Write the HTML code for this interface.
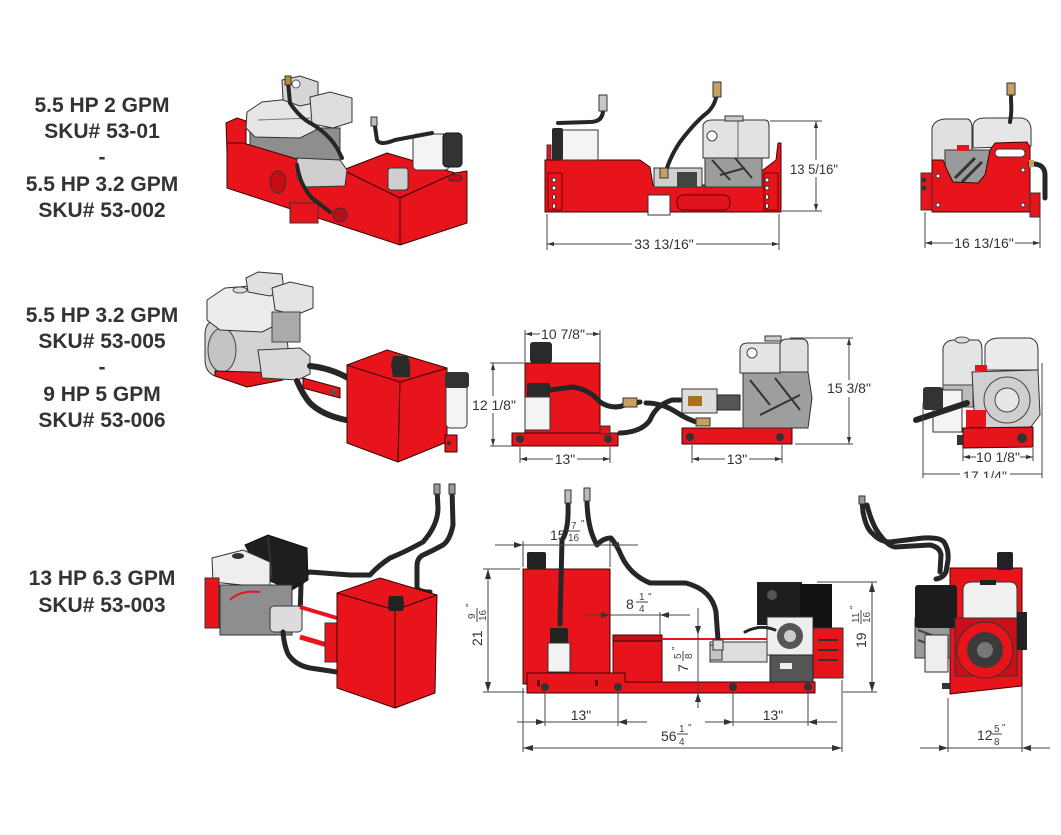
<!DOCTYPE html>
<html><head><meta charset="utf-8">
<style>
html,body{margin:0;padding:0;background:#fff;}
svg{display:block}
.t{font-family:"Liberation Sans",Arial,sans-serif;font-weight:bold;font-size:21px;fill:#333;text-anchor:middle}
.d{font-family:"Liberation Sans",Arial,sans-serif;font-size:14px;fill:#333}
.f{font-family:"Liberation Sans",Arial,sans-serif;font-size:10px;fill:#444}
.r{fill:#e8141c;stroke:#3a0505;stroke-width:1;stroke-linejoin:round}
.h{fill:none;stroke:#262626;stroke-linecap:round;stroke-linejoin:round}
.dl{stroke:#444;stroke-width:1;fill:none}
.ar{fill:#333}
</style></head><body>
<svg width="1061" height="835" viewBox="0 0 1061 835" xmlns="http://www.w3.org/2000/svg">
<defs>
<marker id="m" viewBox="0 0 10 6" refX="10" refY="3" markerWidth="7" markerHeight="4.2" markerUnits="userSpaceOnUse" orient="auto-start-reverse"><path d="M0,0L10,3L0,6z" fill="#333"/></marker>
<marker id="M" viewBox="0 0 10 6" refX="10" refY="3" markerWidth="10" markerHeight="6" markerUnits="userSpaceOnUse" orient="auto-start-reverse"><path d="M0,0L10,3L0,6z" fill="#333"/></marker>
<clipPath id="c2"><rect x="880" y="300" width="181" height="178"/></clipPath>
</defs>

<!-- ===== LABELS ===== -->
<g class="t">
<text x="102" y="112">5.5 HP 2 GPM</text>
<text x="102" y="138">SKU# 53-01</text>
<text x="102" y="164">-</text>
<text x="102" y="191">5.5 HP 3.2 GPM</text>
<text x="102" y="217">SKU# 53-002</text>
<text x="102" y="322">5.5 HP 3.2 GPM</text>
<text x="102" y="348">SKU# 53-005</text>
<text x="102" y="374">-</text>
<text x="102" y="401">9 HP 5 GPM</text>
<text x="102" y="427">SKU# 53-006</text>
<text x="102" y="585">13 HP 6.3 GPM</text>
<text x="102" y="612">SKU# 53-003</text>
</g>

<!-- ===== ROW 1 VIEW A (iso) ===== -->
<g>
<polygon class="r" points="226,123 237,118 246,121 246,150 227,152"/>
<rect x="250" y="128" width="90" height="40" fill="#8e8e8e" stroke="#333"/>
<path d="M247,112 L262,102 L300,98 L316,106 L316,130 L300,138 L255,137 L246,128Z" fill="#e6e6e6" stroke="#333"/>
<path d="M282,80 L300,76 L318,82 L318,102 L300,106 L283,100Z" fill="#d6d6d6" stroke="#333"/>
<path d="M310,97 L330,92 L352,98 L352,122 L333,128 L312,124Z" fill="#dedede" stroke="#333"/>
<circle cx="296" cy="84" r="4" fill="#fff" stroke="#555"/>
<line x1="258" y1="120" x2="312" y2="118" stroke="#777"/>
<polygon class="r" points="227,143 243,143 300,160 343,170 400,198 400,245 227,188"/>
<polygon class="r" points="343,170 387,153 455,173 400,198"/>
<polygon class="r" points="400,198 455,173 467,171 467,223 400,245"/>
<rect x="448" y="175" width="14" height="6" rx="3" fill="#c00c12" stroke="#333"/>
<ellipse cx="278" cy="182" rx="8" ry="11" fill="#c90c14" stroke="#333"/>
<path d="M297,158 L340,160 L347,170 L345,186 L305,187 L297,178Z" fill="#cfcfcf" stroke="#333"/>
<rect x="413" y="134" width="36" height="36" rx="4" fill="#f4f4f4" stroke="#333"/>
<rect x="443" y="133" width="19" height="34" rx="4" fill="#333" stroke="#111"/>
<rect x="388" y="168" width="20" height="22" rx="3" fill="#cfcfcf" stroke="#333"/>
<rect x="290" y="203" width="28" height="20" fill="#e8141c" stroke="#333"/>
<circle cx="340" cy="215" r="7" fill="#b8101a" stroke="#333"/>
<path class="h" stroke-width="4" d="M288,82 L290,103 Q300,118 312,124 Q330,135 338,150 L342,158"/>
<path class="h" stroke-width="4" d="M374,120 L377,140 Q380,146 395,140 L432,133"/>
<path class="h" stroke-width="4" d="M297,165 Q300,185 312,198 L330,212"/>
<rect x="285" y="76" width="6" height="9" fill="#b98a3a" stroke="#333"/>
<rect x="371" y="117" width="6" height="9" fill="#bbb" stroke="#333"/>
</g>

<!-- ===== ROW 1 VIEW B (side) ===== -->
<g>
<rect x="547" y="145" width="4" height="16" fill="#e8141c" stroke="#333"/>
<polygon class="r" points="545,160 640,160 650,167 653,185 707,185 712,173 763,170 776,160 778,143 781,143 781,212 545,212"/>
<rect x="548" y="173" width="14" height="37" fill="none" stroke="#7a0000"/>
<rect x="764" y="173" width="14" height="37" fill="none" stroke="#7a0000"/>
<g fill="#fff" stroke="#333">
<circle cx="554" cy="180" r="2"/><circle cx="554" cy="188" r="2"/><ellipse cx="554" cy="197" rx="1.5" ry="2.5"/><ellipse cx="554" cy="206" rx="1.5" ry="2.5"/>
<circle cx="767" cy="180" r="2"/><circle cx="767" cy="188" r="2"/><ellipse cx="767" cy="197" rx="1.5" ry="2.5"/><ellipse cx="767" cy="206" rx="1.5" ry="2.5"/>
</g>
<rect x="648" y="195" width="22" height="20" fill="#fff" stroke="#333"/>
<rect x="677" y="195" width="53" height="15" rx="6" fill="#e0141c" stroke="#600"/>
<rect x="562" y="130" width="36" height="30" fill="#f4f4f4" stroke="#333"/>
<rect x="552" y="128" width="11" height="32" rx="2" fill="#2a2a2a"/>
<path class="h" stroke-width="4" d="M558,123 L590,122 Q603,122 603,110 L603,102"/>
<rect x="599" y="95" width="8" height="16" fill="#c8c8c8" stroke="#333"/>
<rect x="654" y="168" width="48" height="19" fill="#d0d0d0" stroke="#333"/>
<rect x="677" y="172" width="20" height="15" fill="#444"/>
<rect x="705" y="153" width="57" height="34" fill="#9c9c9c" stroke="#333"/>
<path d="M712,160 L730,180 M735,158 L752,178 M720,175 L745,168" stroke="#333" stroke-width="2"/>
<path d="M703,125 Q705,120 712,120 L765,120 Q769,120 769,126 L769,158 L703,158Z" fill="#e2e2e2" stroke="#333"/>
<circle cx="712" cy="136" r="5" fill="#fff" stroke="#444"/>
<line x1="738" y1="121" x2="738" y2="158" stroke="#666"/>
<rect x="725" y="116" width="18" height="5" fill="#ccc" stroke="#333"/>
<path class="h" stroke-width="4" d="M665,176 Q668,160 680,142 Q695,122 708,112 Q716,104 717,92"/>
<rect x="713" y="82" width="8" height="15" fill="#c8a060" stroke="#333"/>
<rect x="660" y="168" width="8" height="10" fill="#c8a060" stroke="#333"/>
<g class="dl">
<line x1="547" y1="214" x2="547" y2="250"/>
<line x1="779" y1="214" x2="779" y2="250"/>
<line x1="547" y1="244" x2="779" y2="244" marker-start="url(#m)" marker-end="url(#m)"/>
<line x1="770" y1="121" x2="822" y2="121"/>
<line x1="782" y1="211" x2="822" y2="211"/>
<line x1="816" y1="121" x2="816" y2="211" marker-start="url(#m)" marker-end="url(#m)"/>
</g>
<rect x="632" y="236" width="64" height="16" fill="#fff"/>
<text class="d" x="664" y="249" text-anchor="middle">33 13/16"</text>
<rect x="789" y="160" width="50" height="17" fill="#fff"/>
<text class="d" x="790" y="174" textLength="48" lengthAdjust="spacingAndGlyphs">13 5/16"</text>
</g>

<!-- ===== ROW 1 VIEW C (end) ===== -->
<g>
<path d="M932,128 Q934,120 945,119 L968,119 Q972,121 972,128 L972,165 L932,165Z" fill="#e0e0e0" stroke="#333"/>
<path d="M973,125 Q975,118 985,118 L1022,118 Q1031,120 1031,130 L1031,146 L973,148Z" fill="#e6e6e6" stroke="#333"/>
<rect x="945" y="150" width="45" height="33" fill="#9a9a9a" stroke="#333"/>
<path d="M955,178 L975,158 M962,182 L982,162" stroke="#333" stroke-width="3"/>
<rect x="957" y="145" width="12" height="6" fill="#e8141c"/>
<polygon class="r" points="932,160 943,160 947,170 953,182 978,183 985,175 990,150 995,143 1027,142 1030,147 1030,212 932,212"/>
<rect x="995" y="149" width="30" height="8" rx="4" fill="#fff" stroke="#333"/>
<rect x="921" y="173" width="11" height="37" fill="#e8141c" stroke="#333"/>
<circle cx="924" cy="180" r="2.5" fill="#333"/><circle cx="924" cy="188" r="2.5" fill="#333"/>
<g fill="#fff" stroke="#333"><circle cx="938" cy="176" r="2"/><circle cx="1023" cy="170" r="2"/><circle cx="938" cy="205" r="2"/><circle cx="1023" cy="205" r="2"/></g>
<rect x="1030" y="193" width="10" height="24" fill="#e8141c" stroke="#333"/>
<path class="h" stroke-width="5" d="M1030,164 Q1045,163 1045,175 L1045,198"/>
<rect x="1029" y="160" width="5" height="7" fill="#c8a060"/>
<path class="h" stroke-width="4" d="M1011,90 L1011,100 Q1012,112 1010,122"/>
<rect x="1007" y="83" width="8" height="12" fill="#c8a060" stroke="#333"/>
<g class="dl">
<line x1="925" y1="212" x2="925" y2="248"/>
<line x1="1040" y1="217" x2="1040" y2="248"/>
<line x1="925" y1="243" x2="1040" y2="243" marker-start="url(#m)" marker-end="url(#m)"/>
</g>
<rect x="953" y="235" width="62" height="16" fill="#fff"/>
<text class="d" x="984" y="248" text-anchor="middle">16 13/16"</text>
</g>

<!-- ===== ROW 2 VIEW A (iso) ===== -->
<g>
<path d="M205,335 Q205,322 215,320 L285,322 L290,365 L280,378 L215,376 Q205,372 205,360Z" fill="#d2d2d2" stroke="#333"/>
<ellipse cx="222" cy="350" rx="14" ry="22" fill="#c4c4c4" stroke="#444"/>
<path d="M207,300 L225,288 L262,285 L282,300 L282,322 L262,332 L220,330 L207,320Z" fill="#ececec" stroke="#333"/>
<ellipse cx="240" cy="290" rx="7" ry="3" fill="#ddd" stroke="#555"/>
<path d="M246,278 L258,272 L282,274 L284,290 L270,296 L248,292Z" fill="#e0e0e0" stroke="#333"/>
<path d="M272,288 L290,282 L313,287 L313,308 L296,315 L275,310Z" fill="#e4e4e4" stroke="#333"/>
<rect x="272" y="312" width="28" height="30" fill="#aaa" stroke="#444"/>
<polygon class="r" points="215,371 283,373 283,380 247,387 215,376"/>
<path d="M258,350 L300,348 L310,356 L310,374 L298,380 L262,378Z" fill="#d9d9d9" stroke="#333"/>
<polygon class="r" points="303,378 340,388 340,398 303,388"/>
<circle cx="334" cy="392" r="3" fill="#555"/>
<path class="h" stroke-width="6" d="M310,366 Q330,368 348,378"/>
<path class="h" stroke-width="6" d="M297,381 Q303,395 310,403 Q322,415 346,420"/>
<polygon class="r" points="347,365 400,382 398,462 347,443"/>
<polygon class="r" points="400,382 447,368 447,442 398,462"/>
<polygon class="r" points="347,365 387,350 447,368 400,382"/>
<path d="M393,356 L408,356 L410,365 L410,377 L393,377 L391,365Z" fill="#2a2a2a"/>
<rect x="446" y="380" width="21" height="48" rx="4" fill="#f5f5f5" stroke="#333"/>
<rect x="445" y="372" width="24" height="16" rx="3" fill="#333"/>
<rect x="445" y="435" width="12" height="17" class="r"/>
<circle cx="449" cy="443" r="2" fill="#333"/>
</g>

<!-- ===== ROW 2 VIEW B (side) ===== -->
<g>
<rect class="r" x="525" y="363" width="75" height="70"/>
<rect x="530" y="342" width="22" height="21" rx="3" fill="#2a2a2a"/>
<rect x="527" y="383" width="23" height="14" rx="2" fill="#2a2a2a"/>
<rect x="525" y="397" width="25" height="33" fill="#f4f4f4" stroke="#333"/>
<rect class="r" x="512" y="433" width="106" height="13"/>
<rect x="600" y="426" width="10" height="8" fill="#e8141c" stroke="#333"/>
<circle cx="520" cy="439" r="4" fill="#333"/><circle cx="608" cy="439" r="4" fill="#333"/>
<rect class="r" x="682" y="428" width="110" height="16"/>
<circle cx="690" cy="437" r="4" fill="#333"/><circle cx="780" cy="437" r="4" fill="#333"/>
<path class="h" stroke-width="5" d="M550,390 L573,387 Q590,390 600,402 Q612,410 625,405 L640,402"/>
<rect x="623" y="398" width="14" height="9" fill="#c8a060" stroke="#333"/>
<path class="h" stroke-width="5" d="M620,433 Q642,432 650,420 Q656,405 672,400 L685,400"/>
<path class="h" stroke-width="5" d="M646,403 Q662,403 676,412 Q688,420 700,423"/>
<rect x="696" y="418" width="14" height="8" fill="#c8a060" stroke="#333"/>
<rect x="682" y="389" width="35" height="24" fill="#dcdcdc" stroke="#333"/>
<rect x="688" y="396" width="14" height="10" fill="#a87020"/>
<rect x="717" y="395" width="23" height="15" fill="#555" stroke="#222"/>
<path d="M743,372 L808,372 L812,398 L808,428 L743,428Z" fill="#9e9e9e" stroke="#333"/>
<path d="M750,380 L770,405 M775,378 L800,410 M760,415 L800,395" stroke="#333" stroke-width="2"/>
<path d="M740,350 Q740,343 748,343 L780,343 L780,373 L740,373Z" fill="#e4e4e4" stroke="#333"/>
<circle cx="752" cy="353" r="5" fill="#fff" stroke="#444"/>
<path d="M780,345 Q780,339 788,339 L803,339 Q808,340 808,346 L808,372 L780,372Z" fill="#e0e0e0" stroke="#333"/>
<rect x="765" y="336" width="16" height="5" fill="#ccc" stroke="#333"/>
<g class="dl">
<line x1="525" y1="330" x2="525" y2="362"/>
<line x1="600" y1="330" x2="600" y2="362"/>
<line x1="525" y1="334" x2="600" y2="334" marker-start="url(#m)" marker-end="url(#m)"/>
<line x1="490" y1="363" x2="525" y2="363"/>
<line x1="490" y1="446" x2="512" y2="446"/>
<line x1="493" y1="363" x2="493" y2="446" marker-start="url(#m)" marker-end="url(#m)"/>
<line x1="520" y1="447" x2="520" y2="463"/>
<line x1="610" y1="447" x2="610" y2="463"/>
<line x1="520" y1="459" x2="610" y2="459" marker-start="url(#m)" marker-end="url(#m)"/>
<line x1="692" y1="445" x2="692" y2="463"/>
<line x1="782" y1="445" x2="782" y2="463"/>
<line x1="692" y1="459" x2="782" y2="459" marker-start="url(#m)" marker-end="url(#m)"/>
<line x1="790" y1="338" x2="853" y2="338"/>
<line x1="795" y1="444" x2="853" y2="444"/>
<line x1="849" y1="338" x2="849" y2="444" marker-start="url(#m)" marker-end="url(#m)"/>
</g>
<rect x="540" y="326" width="46" height="16" fill="#fff"/>
<text class="d" x="563" y="339" text-anchor="middle">10 7/8"</text>
<rect x="472" y="396" width="44" height="17" fill="#fff"/>
<text class="d" x="494" y="410" text-anchor="middle">12 1/8"</text>
<rect x="553" y="452" width="24" height="14" fill="#fff"/>
<text class="d" x="565" y="464" text-anchor="middle">13"</text>
<rect x="725" y="452" width="24" height="14" fill="#fff"/>
<text class="d" x="737" y="464" text-anchor="middle">13"</text>
<rect x="826" y="380" width="46" height="17" fill="#fff"/>
<text class="d" x="849" y="393" text-anchor="middle">15 3/8"</text>
</g>

<!-- ===== ROW 2 VIEW C (end) ===== -->
<g>
<path d="M943,348 Q945,340 955,340 L978,340 Q982,342 982,350 L982,390 L943,390Z" fill="#e4e4e4" stroke="#333"/>
<ellipse cx="962" cy="340" rx="7" ry="3" fill="#ddd" stroke="#555"/>
<path d="M985,346 Q988,338 1000,338 L1030,338 Q1038,340 1038,350 L1038,370 L985,370Z" fill="#ebebeb" stroke="#333"/>
<rect x="943" y="385" width="30" height="22" fill="#bbb" stroke="#444"/>
<path d="M972,372 L1038,370 L1040,415 L1030,428 L975,428Z" fill="#d0d0d0" stroke="#333"/>
<rect x="966" y="410" width="20" height="20" fill="#e8141c"/>
<circle cx="1007" cy="400" r="23" fill="#cfcfcf" stroke="#444"/>
<circle cx="1007" cy="400" r="12" fill="#e6e6e6" stroke="#444"/>
<rect x="975" y="365" width="12" height="6" fill="#e8141c"/>
<polygon class="r" points="963,428 1033,427 1033,447 963,448"/>
<circle cx="1022" cy="438" r="5" fill="#333"/>
<rect x="933" y="390" width="29" height="42" fill="#f4f4f4" stroke="#333"/>
<rect x="957" y="435" width="6" height="10" fill="#333"/>
<rect x="923" y="387" width="20" height="23" rx="3" fill="#333"/>
<path class="h" stroke-width="6" d="M916,420 L967,403"/>
<g class="dl" clip-path="url(#c2)">
<line x1="923" y1="403" x2="923" y2="480"/>
<line x1="1042" y1="363" x2="1042" y2="480"/>
<line x1="963" y1="448" x2="963" y2="461"/>
<line x1="1033" y1="448" x2="1033" y2="461"/>
<line x1="963" y1="457" x2="1033" y2="457" marker-start="url(#m)" marker-end="url(#m)"/>
<line x1="923" y1="474" x2="1042" y2="474"/>
</g>
<rect x="976" y="450" width="44" height="15" fill="#fff"/>
<text class="d" x="998" y="462" text-anchor="middle">10 1/8"</text>
<g clip-path="url(#c2)">
<rect x="960" y="466" width="50" height="16" fill="#fff"/>
<text class="d" x="985" y="481" text-anchor="middle">17 1/4"</text>
</g>
</g>

<!-- ===== ROW 3 VIEW A (iso) ===== -->
<g>
<path class="h" stroke-width="5" d="M437,489 L438,508 Q438,525 423,542 Q405,552 390,558 Q378,566 370,575 L350,575 L310,572 Q301,574 301,585 L300,615"/>
<path class="h" stroke-width="5" d="M452,489 L453,525 Q450,540 443,545 Q430,552 423,555 Q417,558 417,566 L417,588 Q420,592 430,592"/>
<rect x="434" y="484" width="6" height="10" fill="#999" stroke="#333"/>
<rect x="449" y="484" width="6" height="10" fill="#999" stroke="#333"/>
<polygon points="245,545 268,535 307,548 308,580 292,590 262,578" fill="#1e1e1e" stroke="#111"/>
<line x1="268" y1="537" x2="272" y2="578" stroke="#444"/>
<polygon points="212,558 243,550 270,562 270,588 213,582" fill="#eeeeee" stroke="#333"/>
<ellipse cx="238" cy="556" rx="6" ry="3" fill="#333"/>
<rect x="220" y="585" width="72" height="50" fill="#8e8e8e" stroke="#333"/>
<rect x="205" y="578" width="14" height="50" fill="#e8141c" stroke="#333"/>
<rect x="270" y="606" width="32" height="26" rx="4" fill="#dcdcdc" stroke="#333"/>
<path d="M230,600 Q240,590 260,592" stroke="#e8141c" stroke-width="2" fill="none"/>
<path d="M300,607 L337,618" stroke="#e8141c" stroke-width="4"/>
<path d="M300,637 L337,648" stroke="#e8141c" stroke-width="5"/>
<rect x="325" y="623" width="12" height="39" fill="#e8141c" stroke="#333"/>
<path class="h" stroke-width="5" d="M283,632 Q284,645 288,654 Q295,665 310,668 L337,672"/>
<polygon class="r" points="337,593 395,610 395,708 337,688"/>
<polygon class="r" points="395,610 437,595 435,693 395,708"/>
<polygon class="r" points="337,593 380,578 437,595 395,610"/>
<path d="M389,596 L403,596 L404,604 L403,611 L389,611 L388,604Z" fill="#222"/>
</g>

<!-- ===== ROW 3 VIEW B (side) ===== -->
<g>
<rect class="r" x="523" y="569" width="87" height="115"/>
<rect x="527" y="552" width="19" height="17" rx="2" fill="#222"/>
<rect class="r" x="613" y="635" width="49" height="47"/>
<rect x="613" y="635" width="49" height="6" fill="#c40f16" stroke="#3a0505"/>
<polygon class="r" points="527,673 625,673 625,682 815,682 815,693 527,693"/>
<g fill="#333"><circle cx="545" cy="687" r="4"/><circle cx="618" cy="687" r="4"/><circle cx="733" cy="687" r="4"/><circle cx="808" cy="687" r="4"/></g>
<rect x="537" y="680" width="3" height="6" fill="#600"/><rect x="595" y="680" width="3" height="6" fill="#600"/>
<rect x="757" y="582" width="45" height="43" fill="#1e1e1e"/>
<circle cx="772" cy="595" r="5" fill="#555"/>
<rect x="800" y="584" width="32" height="44" fill="#111"/>
<rect x="813" y="628" width="30" height="50" fill="#e8141c" stroke="#333"/>
<path d="M818,640 L838,640 M818,650 L838,650 M818,660 L838,660" stroke="#333" stroke-width="2"/>
<rect x="767" y="617" width="46" height="38" fill="#eeeeee" stroke="#333"/>
<circle cx="790" cy="636" r="13" fill="#555"/>
<circle cx="790" cy="636" r="6" fill="#ccc"/>
<rect x="770" y="655" width="43" height="27" fill="#555" stroke="#222"/>
<rect x="780" y="663" width="12" height="6" fill="#eee"/>
<rect x="710" y="642" width="57" height="20" fill="#dddddd" stroke="#333"/>
<rect x="710" y="645" width="12" height="15" fill="#c4c4c4" stroke="#333"/>
<line x1="662" y1="639" x2="767" y2="639" stroke="#e8141c" stroke-width="2"/>
<path class="h" stroke-width="3" d="M745,632 Q760,624 775,630"/>
<rect x="550" y="628" width="18" height="15" rx="2" fill="#222"/>
<rect x="548" y="643" width="22" height="29" fill="#f2f2f2" stroke="#333"/>
<path class="h" stroke-width="5" d="M568,503 Q569,530 562,540 L560,624"/>
<rect x="565" y="490" width="6" height="13" fill="#bbb" stroke="#333"/>
<path class="h" stroke-width="5" d="M587,503 Q588,530 597,545 Q603,538 611,538 Q617,545 621,555 Q630,575 650,583 L686,583 Q712,590 716,612 L718,640"/>
<rect x="584" y="488" width="6" height="13" fill="#bbb" stroke="#333"/>
<rect x="713" y="640" width="10" height="10" fill="#ddd" stroke="#333"/>
<!-- dims -->
<g class="dl">
<line x1="495" y1="545" x2="638" y2="545"/>
<line x1="523" y1="541" x2="523" y2="567"/>
<line x1="610" y1="541" x2="610" y2="567"/>
<line x1="483" y1="569" x2="520" y2="569"/>
<line x1="483" y1="692" x2="525" y2="692"/>
<line x1="488" y1="569" x2="488" y2="692" marker-start="url(#M)" marker-end="url(#M)"/>
<line x1="585" y1="615" x2="690" y2="615"/>
<line x1="660" y1="612" x2="660" y2="635"/>
<line x1="698" y1="608" x2="698" y2="708"/>
<line x1="817" y1="582" x2="877" y2="582"/>
<line x1="843" y1="692" x2="877" y2="692"/>
<line x1="872" y1="582" x2="872" y2="692" marker-start="url(#M)" marker-end="url(#M)"/>
<line x1="545" y1="693" x2="545" y2="726"/>
<line x1="618" y1="693" x2="618" y2="726"/>
<line x1="733" y1="693" x2="733" y2="726"/>
<line x1="808" y1="693" x2="808" y2="726"/>
<line x1="517" y1="722" x2="647" y2="722"/>
<line x1="705" y1="722" x2="837" y2="722"/>
<line x1="523" y1="688" x2="523" y2="752"/>
<line x1="842" y1="680" x2="842" y2="752"/>
<line x1="523" y1="748" x2="842" y2="748" marker-start="url(#M)" marker-end="url(#M)"/>
</g>
<g class="ar">
<polygon points="523,545 514,542 514,548"/>
<polygon points="610,545 619,542 619,548"/>
<polygon points="610,615 601,612 601,618"/>
<polygon points="660,615 669,612 669,618"/>
<polygon points="698,635 695,626 701,626"/>
<polygon points="698,693 695,702 701,702"/>
<polygon points="545,722 536,719 536,725"/>
<polygon points="618,722 627,719 627,725"/>
<polygon points="733,722 724,719 724,725"/>
<polygon points="808,722 817,719 817,725"/>
</g>
<!-- 15 7/16 -->
<text class="d" x="550" y="540" font-size="13">15</text>
<text class="f" x="571" y="529">7</text>
<line x1="567" y1="531" x2="580" y2="531" stroke="#444"/>
<text class="f" x="568" y="541">16</text>
<text class="f" x="581" y="527">"</text>
<!-- 21 9/16 rotated -->
<g transform="translate(477,622) rotate(-90)">
<rect x="-26" y="-10" width="46" height="20" fill="#fff"/>
<text class="d" x="-24" y="5">21</text>
<text class="f" x="3" y="-2">9</text>
<line x1="0" y1="0" x2="14" y2="0" stroke="#444"/>
<text class="f" x="1" y="9">16</text>
<text class="f" x="15" y="-4">"</text>
</g>
<!-- 8 1/4 -->
<text class="d" x="626" y="609" font-size="13">8</text>
<text class="f" x="639" y="600">1</text>
<line x1="636" y1="602" x2="648" y2="602" stroke="#444"/>
<text class="f" x="639" y="612">4</text>
<text class="f" x="648" y="600">"</text>
<!-- 7 5/8 rotated -->
<g transform="translate(683,660) rotate(-90)">
<rect x="-12" y="-9" width="26" height="19" fill="#fff"/>
<text class="d" x="-12" y="5">7</text>
<text class="f" x="1" y="-2">5</text>
<line x1="-1" y1="0" x2="9" y2="0" stroke="#444"/>
<text class="f" x="1" y="9">8</text>
<text class="f" x="10" y="-4">"</text>
</g>
<!-- 19 11/16 rotated -->
<g transform="translate(861,624) rotate(-90)">
<rect x="-26" y="-10" width="48" height="20" fill="#fff"/>
<text class="d" x="-24" y="5">19</text>
<text class="f" x="1" y="-2">11</text>
<line x1="0" y1="0" x2="14" y2="0" stroke="#444"/>
<text class="f" x="1" y="9">16</text>
<text class="f" x="15" y="-4">"</text>
</g>
<!-- 13 / 13 / 56 1/4 -->
<text class="d" x="581" y="720" text-anchor="middle">13"</text>
<text class="d" x="773" y="720" text-anchor="middle">13"</text>
<text class="d" x="661" y="741">56</text>
<text class="f" x="679" y="732">1</text>
<line x1="677" y1="734" x2="688" y2="734" stroke="#444"/>
<text class="f" x="679" y="745">4</text>
<text class="f" x="688" y="731">"</text>
</g>

<!-- ===== ROW 3 VIEW C (end) ===== -->
<g>
<path class="h" stroke-width="5" d="M862,500 L863,512 Q866,528 872,533 Q880,542 890,542 L923,538 Q940,537 944,542 Q949,550 948,560 L946,572 Q943,578 936,579"/>
<path class="h" stroke-width="5" d="M867,505 Q872,525 880,535 Q888,546 895,547 L930,545 Q940,547 941,555 L940,572"/>
<rect x="859" y="496" width="6" height="8" fill="#999" stroke="#333"/>
<polygon class="r" points="950,568 1022,568 1022,686 950,694"/>
<rect x="997" y="552" width="16" height="18" rx="2" fill="#222"/>
<rect x="915" y="618" width="35" height="40" fill="#9a9a9a" stroke="#333"/>
<path d="M918,630 L945,640 M918,640 L945,650" stroke="#444" stroke-width="2"/>
<rect x="925" y="635" width="23" height="37" fill="#eeeeee" stroke="#333"/>
<rect x="915" y="585" width="42" height="43" rx="3" fill="#1c1c1c"/>
<path d="M963,590 Q963,582 972,582 L1010,582 Q1017,582 1017,590 L1017,618 L963,618Z" fill="#f0f0f0" stroke="#333"/>
<rect x="980" y="580" width="16" height="5" fill="#222"/>
<rect x="955" y="618" width="62" height="58" fill="#c81018" stroke="#333"/>
<circle cx="985" cy="650" r="28" fill="#e8141c" stroke="#333"/>
<circle cx="985" cy="650" r="18" fill="#3a3a3a"/>
<circle cx="985" cy="650" r="8" fill="#777"/>
<rect x="1017" y="612" width="10" height="38" fill="#222"/>
<rect x="942" y="683" width="8" height="6" fill="#333"/>
<g class="dl">
<line x1="948" y1="698" x2="948" y2="752"/>
<line x1="1022" y1="686" x2="1022" y2="752"/>
<line x1="920" y1="748" x2="1050" y2="748"/>
</g>
<g class="ar">
<polygon points="948,748 939,745 939,751"/>
<polygon points="1022,748 1031,745 1031,751"/>
</g>
<text class="d" x="977" y="740">12</text>
<text class="f" x="994" y="732">5</text>
<line x1="992" y1="734" x2="1002" y2="734" stroke="#444"/>
<text class="f" x="994" y="745">8</text>
<text class="f" x="1002" y="731">"</text>
</g>
</svg>
</body></html>
